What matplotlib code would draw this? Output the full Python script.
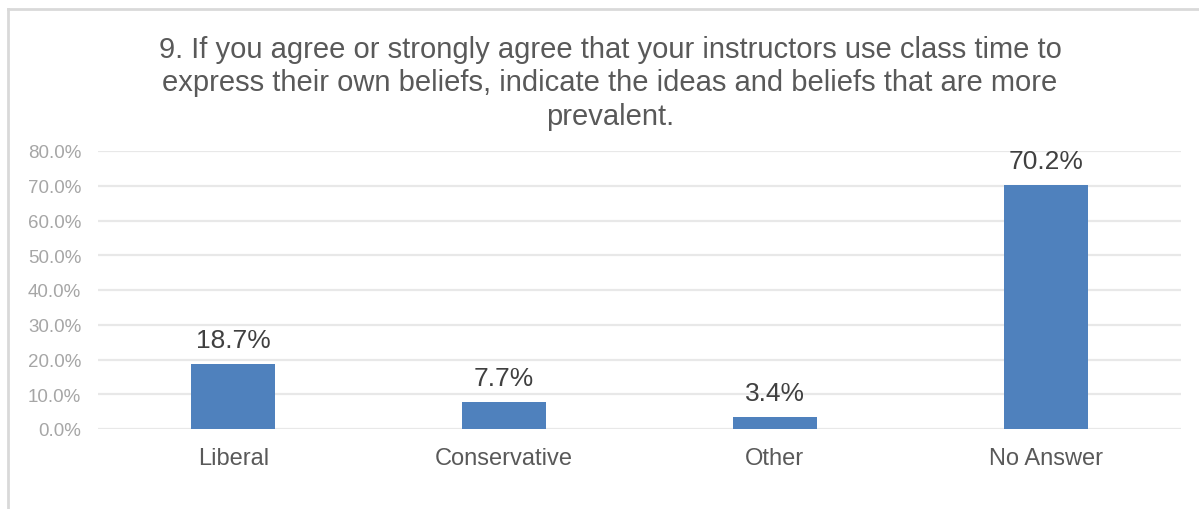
import matplotlib.pyplot as plt
from matplotlib.lines import Line2D

## Chart data
categories = ["Liberal", "Conservative", "Other", "No Answer"]
values = [18.7, 7.7, 3.4, 70.2]
yticks = [0, 10, 20, 30, 40, 50, 60, 70, 80]
title = ("9. If you agree or strongly agree that your instructors use class time to\n"
         "express their own beliefs, indicate the ideas and beliefs that are more\n"
         "prevalent.")

plt.rcParams['font.family'] = ['Liberation Sans', 'DejaVu Sans']

W, H = 1199, 510
fig = plt.figure(figsize=(W / 100, H / 100), dpi=100)
ax = fig.add_axes([98 / W, 1 - 430 / H, (1181 - 98) / W, (430 - 152) / H])

x = range(len(categories))
bars = ax.bar(x, values, width=0.31, color='#4F81BD', zorder=3)

for b, v in zip(bars, values):
    ax.annotate(f"{v:.1f}%", (b.get_x() + b.get_width() / 2, v),
                xytext=(0, 9), textcoords='offset points',
                ha='center', va='bottom', fontsize=19, color='#404040')

ax.set_xlim(-0.5, len(categories) - 0.5)
ax.set_ylim(0, 80)
ax.set_yticks(yticks)
ax.set_yticklabels([f"{t:.1f}%" for t in yticks])
ax.set_xticks(list(x))
ax.set_xticklabels(categories)

ax.tick_params(axis='y', length=0, pad=12, labelsize=13.5, labelcolor='#A6A6A6')
ax.tick_params(axis='x', length=0, pad=13, labelsize=17, labelcolor='#595959')
ax.grid(axis='y', color='#E8E8E8', linewidth=1.6, zorder=0)
for s in ax.spines.values():
    s.set_visible(False)

fig.text(610 / W, 1 - 36 / H, title, ha='center', va='top', fontsize=21,
         color='#595959', linespacing=1.24)

# chart border (top and left edges visible)
fig.add_artist(Line2D([8 / W, 1], [1 - 10 / H, 1 - 10 / H], color='#D9D9D9', lw=2))
fig.add_artist(Line2D([8 / W, 8 / W], [0, 1 - 10 / H], color='#D9D9D9', lw=2))

fig.savefig('out.png', dpi=100)
